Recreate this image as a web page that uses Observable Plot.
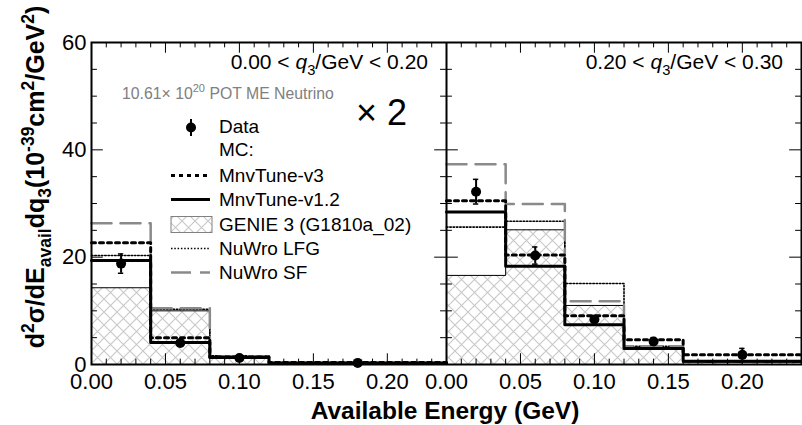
<!DOCTYPE html>
<html><head><meta charset="utf-8">
<script src="https://cdn.jsdelivr.net/npm/d3@7"></script>
<script src="https://cdn.jsdelivr.net/npm/@observablehq/plot@0.6"></script>
<style>body{margin:0;background:#fff}</style>
</head><body><div id="chart"></div>
<script>
// ---- data ----
const panelLabels = ["0.00 < q3/GeV < 0.20", "0.20 < q3/GeV < 0.30"];
const binEdgesLeft = [0, 0.04, 0.08, 0.12, 0.24];
const binEdgesRight = [0, 0.04, 0.08, 0.12, 0.16, 0.24];

const dataXLeft = [0.02, 0.06, 0.10, 0.18];
const dataLeft = [18.8, 4.0, 1.2, 0.3];
const errLeft = [1.8, 0.4, 0.2, 0.1];
const v3Left = [22.7, 5.0, 1.4, 0.35];
const v12Left = [19.4, 4.1, 1.3, 0.3];
const genieLeft = [14.3, 10.0, 1.5, 0.3];
const lfgLeft = [20.3, 10.3, 1.6, 0.3];
const sfLeft = [26.3, 10.5, 1.5, 0.3];

const dataXRight = [0.02, 0.06, 0.10, 0.14, 0.20];
const dataRight = [32.2, 20.3, 8.4, 4.3, 1.8];
const errRight = [2.3, 1.6, 0.6, 0.7, 1.2];
const v3Right = [30.5, 20.4, 9.1, 4.6, 1.8];
const v12Right = [28.4, 18.3, 7.4, 3.0, 0.6];
const genieRight = [16.6, 25.1, 11.0, 3.2, 0.4];
const lfgRight = [25.6, 26.7, 15.1, 3.4, 0.5];
const sfRight = [37.3, 29.9, 11.8, 3.4, 0.6];

const xTickLabels = [0.00, 0.05, 0.10, 0.15, 0.20];
const yTickLabels = [0, 20, 40, 60];
const legendLabels = ["Data", "MC:", "MnvTune-v3", "MnvTune-v1.2", "GENIE 3 (G1810a_02)", "NuWro LFG", "NuWro SF"];
const PANEL_W = 0.24; // each panel spans 0..0.24 GeV

// ---- tables ----
const panels = [
  {off: 0, edges: binEdgesLeft, dx: dataXLeft, data: dataLeft, err: errLeft,
   series: {v3: v3Left, v12: v12Left, genie: genieLeft, lfg: lfgLeft, sf: sfLeft}},
  {off: PANEL_W, edges: binEdgesRight, dx: dataXRight, data: dataRight, err: errRight,
   series: {v3: v3Right, v12: v12Right, genie: genieRight, lfg: lfgRight, sf: sfRight}}
];
function stepRows(key) {
  const rows = [];
  panels.forEach((p, pi) => {
    const vals = p.series[key];
    vals.forEach((v, i) => rows.push({x: p.edges[i] + p.off, y: v, panel: pi}));
    rows.push({x: p.edges[p.edges.length - 1] + p.off, y: vals[vals.length - 1], panel: pi});
  });
  return rows;
}
const genieRects = panels.flatMap(p => p.series.genie.map((v, i) => ({x1: p.edges[i] + p.off, x2: p.edges[i + 1] + p.off, y: v})));
const points = panels.flatMap(p => p.data.map((v, i) => ({x: p.dx[i] + p.off, y: v, e: p.err[i]})));

const xTicks = panels.flatMap(p => xTickLabels.map(t => t + p.off));
const xMinor = panels.flatMap(p => d3.range(0, 25).map(i => i / 100).filter(t => t < PANEL_W - 1e-9 || p.off === PANEL_W).map(t => t + p.off));
const yMinor = d3.range(0, 61, 5);
const yEdges = [{x: 0, dir: 1}, {x: PANEL_W, dir: 1}, {x: PANEL_W, dir: -1}, {x: 2 * PANEL_W, dir: -1}];
const yTickRows = yEdges.flatMap(e => yMinor.map(v => ({x: e.x, dir: e.dir, y: v, major: v % 20 === 0})));
const xTickRows = [];
for (const t of xMinor) {
  const major = xTicks.some(m => Math.abs(m - t) < 1e-9);
  xTickRows.push({x: t, y1: 0, y2: major ? 2.0 : 1.0});
  xTickRows.push({x: t, y1: 60, y2: major ? 58.0 : 59.0});
}

const plot = Plot.plot({
  width: 802, height: 425,
  marginLeft: 91, marginRight: 1, marginTop: 42, marginBottom: 61,
  style: {fontFamily: "'Liberation Sans', Arial, sans-serif", fontSize: "22px", background: "white", color: "black"},
  x: {domain: [0, 2 * PANEL_W], ticks: xTicks, tickSize: 0, tickPadding: 9, label: null,
      tickFormat: d => (d >= PANEL_W - 1e-9 ? d - PANEL_W : d).toFixed(2)},
  y: {domain: [0, 60], ticks: yTickLabels, tickSize: 0, tickPadding: 5, label: null},
  marks: [
    Plot.rectY(genieRects, {x1: "x1", x2: "x2", y: "y", fill: "url(#hatch)"}),
    Plot.line(stepRows("genie"), {x: "x", y: "y", z: "panel", curve: "step-after", stroke: "black", strokeWidth: 1}),
    Plot.line(stepRows("lfg"), {x: "x", y: "y", z: "panel", curve: "step-after", stroke: "black", strokeWidth: 1.6, strokeDasharray: "1.5,1.8"}),
    Plot.line(stepRows("sf"), {x: "x", y: "y", z: "panel", curve: "step-after", stroke: "#8a8a8a", strokeWidth: 2.5, strokeDasharray: "20,9"}),
    Plot.line(stepRows("v12"), {x: "x", y: "y", z: "panel", curve: "step-after", stroke: "black", strokeWidth: 3}),
    Plot.line(stepRows("v3"), {x: "x", y: "y", z: "panel", curve: "step-after", stroke: "black", strokeWidth: 3, strokeDasharray: "4,4"}),
    Plot.ruleX(points, {x: "x", y1: d => d.y - d.e, y2: d => d.y + d.e, stroke: "black", strokeWidth: 2}),
    Plot.ruleY(points, {y: d => d.y - d.e, x1: d => d.x - 0.0018, x2: d => d.x + 0.0018, stroke: "black", strokeWidth: 1.5}),
    Plot.ruleY(points, {y: d => d.y + d.e, x1: d => d.x - 0.0018, x2: d => d.x + 0.0018, stroke: "black", strokeWidth: 1.5}),
    Plot.dot(points, {x: "x", y: "y", r: 5, fill: "black", stroke: "none"}),
    Plot.ruleX(xTickRows, {x: "x", y1: "y1", y2: "y2", stroke: "black", strokeWidth: 1}),
    Plot.ruleY(yTickRows, {y: "y", x1: "x", x2: d => d.x + d.dir * (d.major ? 0.008 : 0.004), stroke: "black", strokeWidth: 1}),
    Plot.ruleX([PANEL_W], {stroke: "black", strokeWidth: 2}),
    Plot.frame({stroke: "black", strokeWidth: 2})
  ]
});

const svg = d3.select(plot);
const defs = svg.insert("defs", ":first-child");
const pat = defs.append("pattern").attr("id", "hatch").attr("patternUnits", "userSpaceOnUse")
  .attr("width", 13).attr("height", 13);
pat.append("rect").attr("width", 13).attr("height", 13).attr("fill", "white");
pat.append("path").attr("d", "M0,0L13,13M13,0L0,13M-1,12L1,14M12,-1L14,1").attr("stroke", "#c8c8c8").attr("stroke-width", 1.1).attr("fill", "none");

const FONT = "'Liberation Sans', Arial, sans-serif";
function rich(g, parts, size) {
  let shift = 0;
  parts.forEach(([txt, kind]) => {
    const t = g.append("tspan").text(txt);
    let target = 0, fs = size;
    if (kind === "sup") { target = -0.42 * size; fs = size * 0.7; }
    if (kind === "sub") { target = 0.28 * size; fs = size * 0.7; }
    if (kind === "it") t.attr("font-style", "italic");
    t.attr("font-size", fs).attr("dy", target - shift);
    shift = target;
  });
}
function label(x, y, parts, size, opts = {}) {
  const t = svg.append("text").attr("x", x).attr("y", y).attr("font-family", FONT)
    .attr("font-size", size).attr("fill", opts.fill || "black")
    .attr("text-anchor", opts.anchor || "start").attr("font-weight", opts.weight || "normal");
  rich(t, parts, size);
  return t;
}

// panel titles
label(428, 69, [["0.00 < ", ""], ["q", "it"], ["3", "sub"], ["/GeV < 0.20", ""]], 21, {anchor: "end"});
label(783, 69, [["0.20 < ", ""], ["q", "it"], ["3", "sub"], ["/GeV < 0.30", ""]], 21, {anchor: "end"});
label(122, 99, [["10.61\u00d7 10", ""], ["20", "sup"], [" POT ME Neutrino", ""]], 15.8, {fill: "#808080"});
label(356, 125, [["\u00d7 2", ""]], 36);

// axis titles
label(445, 419, [["Available Energy (GeV)", ""]], 24.5, {anchor: "middle", weight: "bold"});
svg.append("text").attr("transform", "translate(44,177) rotate(-90)").attr("text-anchor", "middle")
  .attr("font-family", FONT).attr("font-weight", "bold").attr("font-size", 25)
  .call(t => rich(t, [["d", ""], ["2", "sup"], ["\u03c3/dE", ""], ["avail", "sub"], ["dq", ""], ["3", "sub"], ["(10", ""], ["-39", "sup"], ["cm", ""], ["2", "sup"], ["/GeV", ""], ["2", "sup"], [")", ""]], 25));

// legend
const lg = svg.append("g");
const LX = 219, LS = 19;
const rowsY = [133, 156, 182, 206, 231, 255, 279];
lg.append("line").attr("x1", 191).attr("x2", 191).attr("y1", 119).attr("y2", 136).attr("stroke", "black").attr("stroke-width", 2);
lg.append("circle").attr("cx", 191).attr("cy", 127.5).attr("r", 5).attr("fill", "black");
const sampleY = rowsY.map(y => y - 6.5);
lg.append("line").attr("x1", 171).attr("x2", 210).attr("y1", sampleY[2]).attr("y2", sampleY[2]).attr("stroke", "black").attr("stroke-width", 3).attr("stroke-dasharray", "4,4");
lg.append("line").attr("x1", 171).attr("x2", 210).attr("y1", sampleY[3]).attr("y2", sampleY[3]).attr("stroke", "black").attr("stroke-width", 3);
lg.append("rect").attr("x", 171).attr("y", sampleY[4] - 8).attr("width", 41).attr("height", 16).attr("fill", "url(#hatch)").attr("stroke", "#808080").attr("stroke-width", 1);
lg.append("line").attr("x1", 171).attr("x2", 210).attr("y1", sampleY[5]).attr("y2", sampleY[5]).attr("stroke", "black").attr("stroke-width", 1.6).attr("stroke-dasharray", "1.5,1.8");
lg.append("line").attr("x1", 171).attr("x2", 210).attr("y1", sampleY[6]).attr("y2", sampleY[6]).attr("stroke", "#8a8a8a").attr("stroke-width", 2.5).attr("stroke-dasharray", "20,9");
legendLabels.forEach((s, i) => {
  lg.append("text").attr("x", LX).attr("y", rowsY[i]).attr("text-anchor", "start")
    .attr("font-family", FONT).attr("font-size", LS).attr("fill", "black").text(s);
});

document.getElementById("chart").appendChild(plot);
</script></body></html>
